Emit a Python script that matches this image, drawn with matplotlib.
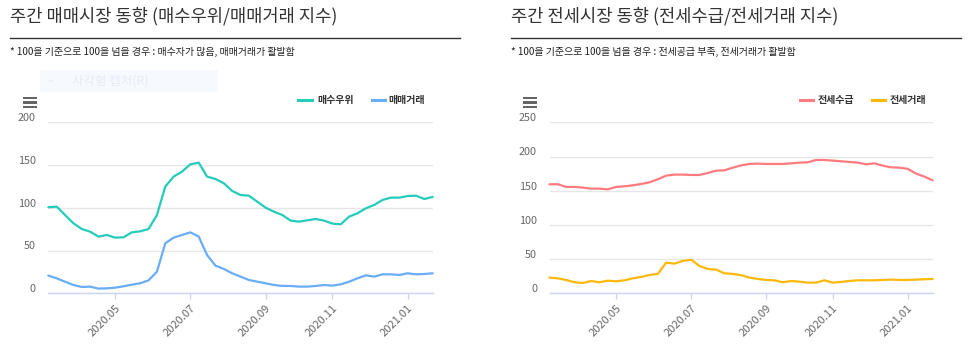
import matplotlib
matplotlib.use("Agg")
import matplotlib.pyplot as plt
import matplotlib.dates as mdates
from matplotlib.lines import Line2D
from matplotlib.patches import Rectangle, Circle
import pandas as pd

plt.rcParams['font.family'] = ['Noto Sans CJK KR', 'DejaVu Sans']

# ---------------- data ----------------
dates = [
    "2020-03-09", "2020-03-16", "2020-03-23", "2020-03-30",
    "2020-04-06", "2020-04-13", "2020-04-20", "2020-04-27",
    "2020-05-04", "2020-05-11", "2020-05-18", "2020-05-25",
    "2020-06-01", "2020-06-08", "2020-06-15", "2020-06-22", "2020-06-29",
    "2020-07-06", "2020-07-13", "2020-07-20", "2020-07-27",
    "2020-08-03", "2020-08-10", "2020-08-17", "2020-08-24", "2020-08-31",
    "2020-09-07", "2020-09-14", "2020-09-21", "2020-09-28",
    "2020-10-05", "2020-10-12", "2020-10-19", "2020-10-26",
    "2020-11-02", "2020-11-09", "2020-11-16", "2020-11-23", "2020-11-30",
    "2020-12-07", "2020-12-14", "2020-12-21", "2020-12-28",
    "2021-01-04", "2021-01-11", "2021-01-18", "2021-01-25",
]

buy_dominance = [  # 매수우위
    100.6, 101.4, 91.6, 81.9, 75.2, 72.1, 66.3, 68.2, 65.1, 65.5,
    71.3, 72.5, 75.2, 91.6, 124.8, 136.5, 142.3, 150.9, 152.8, 136.5,
    133.7, 128.7, 119.7, 115.0, 114.2, 107.2, 100.2, 95.5, 91.6, 85.0,
    83.8, 85.4, 86.9, 85.0, 81.5, 80.7, 89.7, 93.6, 99.4, 103.3,
    109.2, 111.9, 111.9, 113.8, 114.2, 110.3, 112.7,
]
sale_activity = [  # 매매거래
    20.7, 17.5, 13.6, 9.7, 7.4, 7.8, 5.5, 5.8, 6.6, 8.2,
    10.1, 11.7, 15.2, 25.3, 58.5, 65.1, 68.2, 71.3, 66.3, 44.8,
    32.4, 28.5, 23.4, 19.5, 15.6, 13.6, 11.7, 9.7, 8.6, 8.6,
    7.8, 7.8, 8.6, 9.7, 9.0, 10.5, 13.6, 17.5, 21.0, 19.5,
    22.2, 22.2, 21.4, 23.4, 22.2, 22.6, 23.4,
]
jeonse_supply = [  # 전세수급
    159.4, 159.4, 155.5, 155.5, 154.5, 153.0, 153.0, 152.0, 155.5, 156.4,
    157.9, 159.8, 162.3, 166.7, 172.0, 173.5, 173.5, 173.0, 173.0, 175.9,
    179.3, 179.8, 183.7, 187.0, 189.1, 189.6, 189.1, 189.1, 189.1, 190.0,
    191.0, 191.5, 194.9, 194.9, 194.0, 193.0, 192.0, 191.0, 188.6, 190.0,
    186.6, 184.2, 183.7, 182.0, 175.0, 170.6, 165.2,
]
jeonse_activity = [  # 전세거래
    22.9, 21.9, 19.5, 16.1, 15.1, 18.0, 16.1, 18.5, 17.5, 19.0,
    21.9, 23.9, 26.8, 28.3, 44.8, 43.4, 47.3, 49.2, 40.0, 35.6,
    34.6, 29.2, 28.3, 26.5, 22.9, 21.0, 19.5, 19.0, 16.1, 18.0,
    17.0, 15.6, 15.6, 19.0, 15.6, 16.6, 18.0, 19.0, 19.0, 19.0,
    19.5, 20.0, 19.5, 19.5, 20.0, 20.5, 21.0,
]

tick_dates = ["2020-05-04", "2020-07-06", "2020-09-07", "2020-11-02", "2021-01-04"]
tick_labels = ["2020.05", "2020.07", "2020.09", "2020.11", "2021.01"]

left_title = "주간 매매시장 동향 (매수우위/매매거래 지수)"
left_note = "* 100을 기준으로 100을 넘을 경우 : 매수자가 많음, 매매거래가 활발함"
left_names = ["매수우위", "매매거래"]
left_yticks = [0, 50, 100, 150, 200]

right_title = "주간 전세시장 동향 (전세수급/전세거래 지수)"
right_note = "* 100을 기준으로 100을 넘을 경우 : 전세공급 부족, 전세거래가 활발함"
right_names = ["전세수급", "전세거래"]
right_yticks = [0, 50, 100, 150, 200, 250]

TEAL = "#25cbbb"
BLUE = "#68adf5"
RED = "#ff7b80"
YELLOW = "#fcb90c"

# ---------------- figure ----------------
W, H = 977, 358
fig = plt.figure(figsize=(W / 100, H / 100), dpi=100)
fig.patch.set_facecolor("white")

x = pd.to_datetime(dates)
xt = pd.to_datetime(tick_dates)


def px(xp, yp):
    return xp / W, 1 - yp / H


def make_axes(x0, x1, ytop, ybot):
    l, b = px(x0, ybot)
    return fig.add_axes([l, b, (x1 - x0) / W, (ybot - ytop) / H])


def style_axes(ax, yticks):
    ax.set_xlim(x[0], x[-1])
    ax.set_ylim(yticks[0], yticks[-1])
    ax.set_facecolor("white")
    for s in ["top", "right", "left"]:
        ax.spines[s].set_visible(False)
    ax.spines["bottom"].set_color("#ccd6eb")
    ax.spines["bottom"].set_linewidth(1.0)
    ax.set_yticks(yticks)
    ax.yaxis.grid(True, color="#e6e6e6", linewidth=1.0)
    ax.set_axisbelow(True)
    ax.tick_params(axis="y", length=0, labelleft=False)
    for v in yticks:
        ax.annotate(str(v), xy=(0, v), xycoords=("axes fraction", "data"),
                    xytext=(-9, 3), textcoords="offset points",
                    ha="right", va="center", fontsize=7.8, color="#666666",
                    annotation_clip=False)
    ax.set_xticks(xt)
    ax.set_xticklabels(tick_labels, rotation=45, ha="right", va="top",
                       rotation_mode="anchor", fontsize=8, color="#666666")
    ax.tick_params(axis="x", length=4, width=1, color="#ccd6eb", pad=3)


def panel(x0, line_x1, title, note, names, colors, s1, s2, yticks,
          ax_x0, ax_x1, menu_x, legend):
    # title
    tx, ty = px(x0, 16.5)
    fig.text(tx, ty, title, fontsize=12.7, color="#333333", ha="left", va="center")
    # rule
    a, yy = px(x0, 38.3)
    b, _ = px(line_x1, 38.3)
    fig.add_artist(Line2D([a, b], [yy, yy], color="#333333", lw=1.0,
                          transform=fig.transFigure))
    # note
    nx, ny = px(x0, 52)
    fig.text(nx, ny, note, fontsize=7.2, color="#222222", ha="left", va="center")
    # hamburger menu
    for yb in (98, 102.5, 107):
        mx0, my0 = px(menu_x, yb + 1)
        fig.add_artist(Rectangle((mx0, my0), 14 / W, 2.2 / H,
                                 transform=fig.transFigure,
                                 facecolor="#666666", edgecolor="none"))
    # legend
    for (lx0, lx1, tx0), name, c in zip(legend, names, colors):
        la, ly = px(lx0, 100)
        lb, _ = px(lx1, 100)
        fig.add_artist(Line2D([la, lb], [ly, ly], color=c, lw=2.2,
                              transform=fig.transFigure))
        t0, _ = px(tx0, 100)
        fig.text(t0, ly, name, fontsize=7.2, fontweight="bold", color="#333333",
                 ha="left", va="center")
    # axes
    ax = make_axes(ax_x0, ax_x1, 122.3, 293.3)
    style_axes(ax, yticks)
    ax.plot(x, s1, color=colors[0], lw=1.6, solid_joinstyle="round",
            solid_capstyle="round", clip_on=False)
    ax.plot(x, s2, color=colors[1], lw=1.6, solid_joinstyle="round",
            solid_capstyle="round", clip_on=False)
    return ax


# faint screen-capture tooltip artifact in the left panel
bx, by = px(40, 92)
fig.add_artist(Rectangle((bx, by), 178 / W, 22 / H, transform=fig.transFigure,
                         facecolor="#f6f9fe", edgecolor="none"))
cx, cy = px(51, 81)
fig.add_artist(Circle((cx, cy), 2.2 / W, transform=fig.transFigure,
                      facecolor="#e8eef8", edgecolor="none"))
ttx, tty = px(72, 81)
fig.text(ttx, tty, "사각형 캡처(R)", fontsize=9, color="#e6ecf6",
         ha="left", va="center")

panel(10, 460, left_title, left_note, left_names, [TEAL, BLUE],
      buy_dominance, sale_activity, left_yticks, 48.3, 432.7, 23,
      [(298, 312, 317), (372, 385, 388)])
panel(511, 961, right_title, right_note, right_names, [RED, YELLOW],
      jeonse_supply, jeonse_activity, right_yticks, 549.5, 932.7, 523,
      [(800, 813, 818), (872, 885, 890)])

fig.savefig("out.png", dpi=100, facecolor="white")
